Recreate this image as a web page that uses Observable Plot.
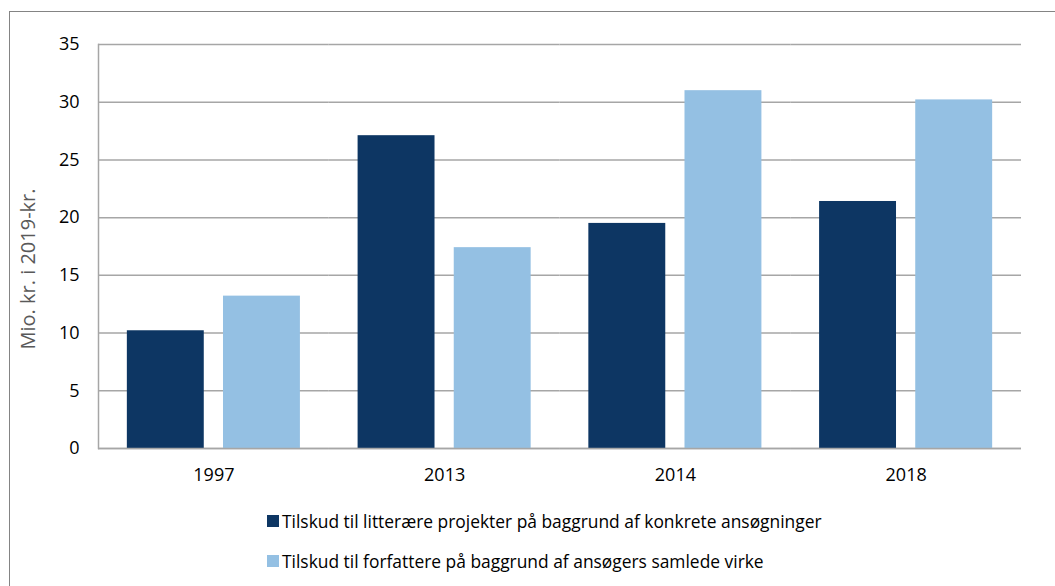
<!DOCTYPE html>
<html><head><meta charset="utf-8">
<script src="https://cdn.jsdelivr.net/npm/d3@7"></script>
<script src="https://cdn.jsdelivr.net/npm/@observablehq/plot@0.6"></script>
<style>
body{margin:0;background:#fff;}
#wrap{position:relative;width:1055px;height:586px;overflow:hidden;font-family:"Open Sans",sans-serif;background:#fff}
#frame{position:absolute;left:9px;top:11px;width:1200px;height:800px;border:1.5px solid #848484;box-sizing:border-box}
#chart{position:absolute;left:0;top:0}
#ylabel{position:absolute;left:28px;top:269px;transform:translate(-50%,-50%) rotate(-90deg);font-size:20px;color:#595959;white-space:nowrap;line-height:1}
.item{position:absolute;left:267px;display:flex;align-items:center;font-size:17.4px;color:#000;white-space:nowrap}
.sw{width:12px;height:12px;margin-right:3px;display:inline-block}
</style></head>
<body><div id="wrap"><div id="frame"></div><div id="chart"></div><div id="ylabel"></div><div id="legend"></div></div>
<script>
const years = ["1997", "2013", "2014", "2018"];
const seriesNames = [
  "Tilskud til litterære projekter på baggrund af konkrete ansøgninger",
  "Tilskud til forfattere på baggrund af ansøgers samlede virke"
];
const projekter = [10.2, 27.1, 19.5, 21.4];
const forfattere = [13.2, 17.4, 31.0, 30.2];
const colors = ["#0d3663", "#94c0e3"];
const yTicks = [0, 5, 10, 15, 20, 25, 30, 35];
const yLabel = "Mio. kr. i 2019-kr.";

const data = years.flatMap((y, i) => [
  {year: y, series: seriesNames[0], value: projekter[i]},
  {year: y, series: seriesNames[1], value: forfattere[i]}
]);

const chart = Plot.plot({
  width: 1055, height: 500,
  marginLeft: 98, marginRight: 34, marginTop: 44, marginBottom: 52,
  style: {fontFamily: "'Open Sans', sans-serif", fontSize: "18px", color: "#000", background: "transparent"},
  fx: {domain: years, padding: 0, label: null, round: false},
  x: {domain: seriesNames, paddingInner: 0.2, paddingOuter: 0.3, axis: null, round: false},
  y: {domain: [0, 35], ticks: yTicks},
  color: {domain: seriesNames, range: colors},
  marks: [
    Plot.gridY(yTicks, {stroke: "#a6a6a6", strokeOpacity: 1, strokeWidth: 1.5}),
    Plot.barY(data, {fx: "year", x: "series", y: "value", fill: "series"}),
    Plot.ruleY([0], {stroke: "#a6a6a6", strokeWidth: 1.5}),
    Plot.frame({anchor: "left", stroke: "#a6a6a6", strokeWidth: 1.5, facetAnchor: "left"}),
    Plot.axisY(yTicks, {tickSize: 0, tickPadding: 19, label: null}),
    Plot.axisFx({anchor: "bottom", tickSize: 0, tickPadding: 20, label: null})
  ]
});
document.getElementById("chart").appendChild(chart);
document.getElementById("ylabel").textContent = yLabel;

const legend = document.getElementById("legend");
const tops = [521, 561];
seriesNames.forEach((name, i) => {
  const item = document.createElement("div");
  item.className = "item";
  item.style.top = (tops[i] - 12) + "px";
  item.style.height = "24px";
  const sw = document.createElement("span");
  sw.className = "sw";
  sw.style.background = colors[i];
  const t = document.createElement("span");
  t.textContent = name;
  item.appendChild(sw); item.appendChild(t);
  legend.appendChild(item);
});
</script>
</body></html>
